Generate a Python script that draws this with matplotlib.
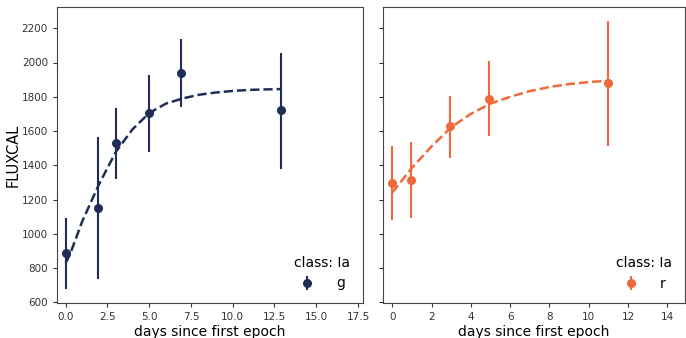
import numpy as np
import matplotlib.pyplot as plt

# g band observations
g_days = [0.0, 1.95, 2.99, 4.98, 6.9, 12.9]
g_flux = [887, 1149, 1531, 1705, 1938, 1720]
g_err_lo = [210, 413, 210, 227, 198, 339]
g_err_hi = [207, 414, 203, 223, 198, 338]
# g band fitted curve
g_fit_days = [0, 0.25, 1, 2, 3, 4, 5, 6, 7, 8, 9, 10, 11, 12, 12.9]
g_fit_flux = [830, 878, 1075, 1290, 1478, 1610, 1705, 1760, 1790, 1812, 1825, 1834, 1840, 1843, 1845]

# r band observations
r_days = [0.0, 0.95, 2.93, 4.92, 10.96]
r_flux = [1294, 1313, 1627, 1789, 1880]
r_err_lo = [215, 223, 182, 220, 369]
r_err_hi = [217, 221, 175, 217, 364]
# r band fitted curve
r_fit_days = [0, 1, 2, 3, 4, 5, 6, 7, 8, 9, 10, 11]
r_fit_flux = [1240, 1385, 1510, 1622, 1700, 1760, 1800, 1833, 1857, 1874, 1886, 1893]

navy = "#1f2d58"
orange = "#f0693a"

fig = plt.figure(figsize=(6.86, 3.38), dpi=100)
ax1 = fig.add_axes([57/686, 35/338, 306/686, 296/338])
ax2 = fig.add_axes([383/686, 35/338, 302/686, 296/338], sharey=ax1)

def panel(ax, days, flux, lo, hi, fx, fy, color, band):
    ax.errorbar(days, flux, yerr=[lo, hi], fmt="o", color=color, ms=5.5,
                elinewidth=1.5, label=band)
    ax.plot(fx, fy, "--", color=color, lw=1.8)
    ax.legend(title="class: Ia", loc="lower right", frameon=False,
              fontsize=10, title_fontsize=10, handlelength=1.0,
              handletextpad=1.6, borderaxespad=0.5)
    ax.set_xlabel("days since first epoch", fontsize=10, labelpad=2)
    ax.tick_params(labelsize=7.5, length=3, colors="#333333")
    for s in ax.spines.values():
        s.set_color("#444444")
        s.set_linewidth(0.8)

panel(ax1, g_days, g_flux, g_err_lo, g_err_hi, g_fit_days, g_fit_flux, navy, "g")
panel(ax2, r_days, r_flux, r_err_lo, r_err_hi, r_fit_days, r_fit_flux, orange, "r")

ax1.set_ylabel("FLUXCAL", fontsize=10.5)
ax1.yaxis.set_label_coords(-0.118, 0.5)
ax1.set_ylim(596, 2324)
ax1.set_yticks(np.arange(600, 2201, 200))
ax1.set_xlim(-0.52, 17.8)
ax1.set_xticks(np.arange(0, 17.6, 2.5))
ax2.set_xlim(-0.47, 14.9)
ax2.set_xticks(np.arange(0, 15, 2))
plt.setp(ax2.get_yticklabels(), visible=False)

fig.savefig("out.png")
